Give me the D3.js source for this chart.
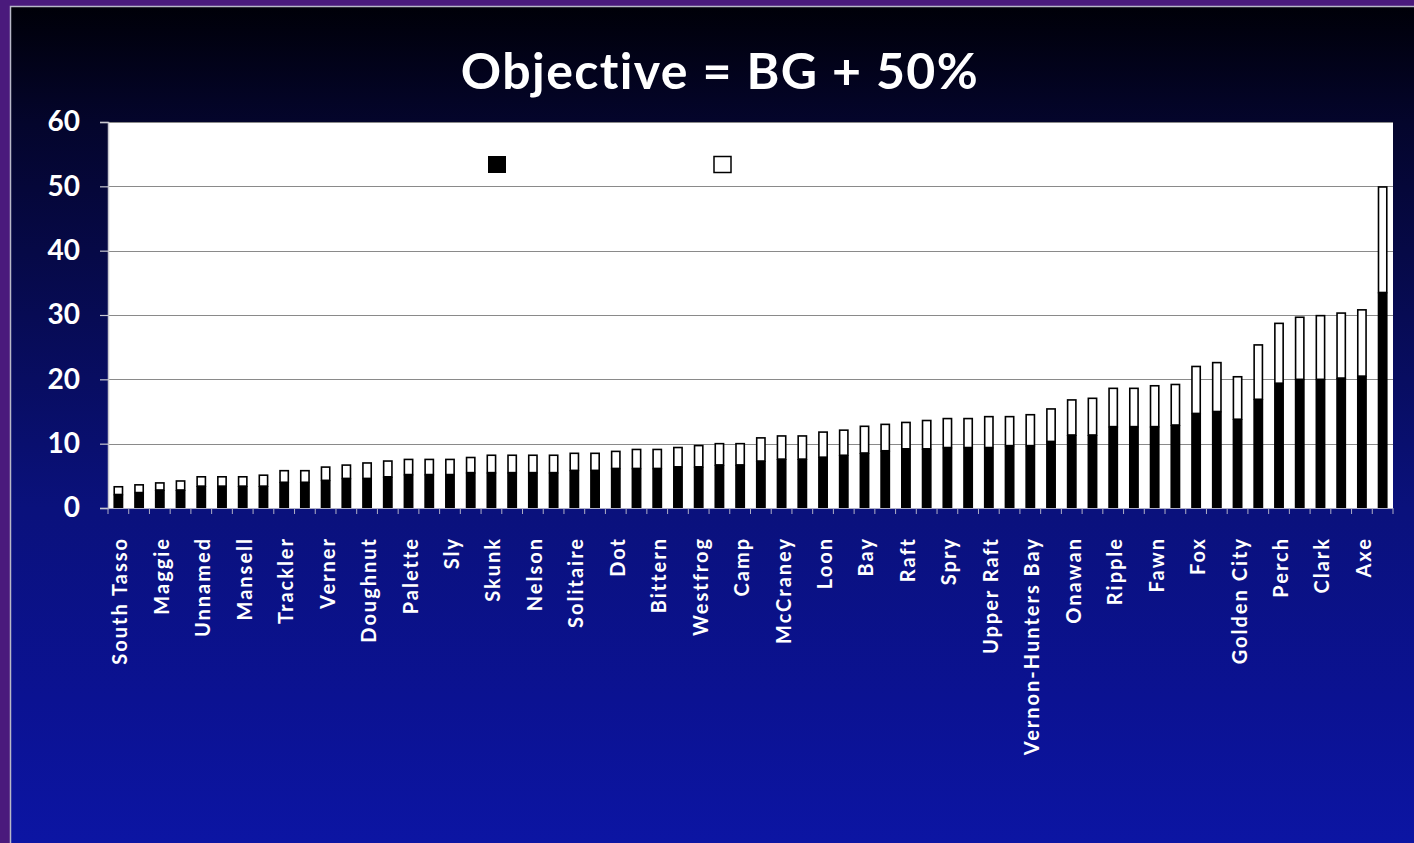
<!DOCTYPE html>
<html>
<head>
<meta charset="utf-8">
<title>Objective = BG + 50%</title>
<script src="https://cdnjs.cloudflare.com/ajax/libs/d3/7.8.5/d3.min.js"></script>
<style>
  body { margin: 0; background: #4a1a7c; }
  svg { display: block; }
</style>
</head>
<body>
<div id="chart"></div>
<script>

// lake names, only every other one is printed on the axis
var lakes = ["South Tasso", "", "Maggie", "", "Unnamed", "", "Mansell", "", "Trackler", "",
  "Verner", "", "Doughnut", "", "Palette", "", "Sly", "", "Skunk", "",
  "Nelson", "", "Solitaire", "", "Dot", "", "Bittern", "", "Westfrog", "",
  "Camp", "", "McCraney", "", "Loon", "", "Bay", "", "Raft", "",
  "Spry", "", "Upper Raft", "", "Vernon-Hunters Bay", "", "Onawan", "", "Ripple", "",
  "Fawn", "", "Fox", "", "Golden City", "", "Perch", "", "Clark", "",
  "Axe", ""];

// background value (black part of each bar)
var bg = [2.1, 2.4, 2.8, 2.8, 3.4, 3.4, 3.4, 3.4, 4.0, 4.0,
  4.3, 4.6, 4.6, 4.85, 5.2, 5.2, 5.2, 5.5, 5.5, 5.5,
  5.5, 5.5, 5.85, 5.85, 6.15, 6.15, 6.15, 6.4, 6.4, 6.7,
  6.7, 7.3, 7.6, 7.6, 7.9, 8.2, 8.55, 8.9, 9.2, 9.2,
  9.4, 9.4, 9.4, 9.7, 9.7, 10.35, 11.35, 11.35, 12.65, 12.65,
  12.65, 12.9, 14.7, 15.0, 13.8, 16.9, 19.4, 20.0, 20.0, 20.2,
  20.5, 33.5];

// objective (top of the white part)
var objective = [3.3, 3.6, 3.9, 4.2, 4.85, 4.85, 4.85, 5.1, 5.8, 5.8,
  6.36, 6.67, 7.0, 7.3, 7.55, 7.55, 7.55, 7.85, 8.2, 8.2,
  8.2, 8.2, 8.5, 8.5, 8.8, 9.1, 9.1, 9.4, 9.7, 10.0,
  10.0, 10.9, 11.2, 11.2, 11.8, 12.1, 12.7, 13.0, 13.3, 13.6,
  13.9, 13.9, 14.2, 14.2, 14.5, 15.4, 16.8, 17.05, 18.6, 18.6,
  19.0, 19.2, 22.0, 22.6, 20.4, 25.35, 28.7, 29.65, 29.9, 30.3,
  30.8, 49.9];

var yTicks = [0, 10, 20, 30, 40, 50, 60];

var W = 1414, H = 843;
var margin = {top: 122, bottom: 335, left: 108, right: 21},
  width = W - margin.left - margin.right,
  height = H - margin.top - margin.bottom;

var svg = d3.select("#chart").append("svg")
  .attr("width", W)
  .attr("height", H);

// background gradient of the slide
var grad = svg.append("defs").append("linearGradient")
  .attr("id", "slide")
  .attr("x1", 0).attr("y1", 0).attr("x2", 0).attr("y2", 1);
[[0, "#000008"], [0.14, "#04052c"], [0.6, "#0a117c"], [0.83, "#0b1292"], [1, "#0c15a3"]]
  .forEach(function(s) {
    grad.append("stop").attr("offset", s[0]).attr("stop-color", s[1]);
  });

svg.append("rect")
  .attr("x", 10).attr("y", 6)
  .attr("width", W - 10).attr("height", H - 6)
  .attr("fill", "url(#slide)");
svg.append("path")
  .attr("d", "M10.5," + H + "V6.5H" + W)
  .attr("fill", "none")
  .attr("stroke", "#b8b8c8")
  .attr("stroke-width", 1.5);

// title
svg.append("text")
  .attr("x", 720)
  .attr("y", 89)
  .attr("text-anchor", "middle")
  .style("font-family", "Lato, 'Open Sans', sans-serif")
  .style("font-weight", "bold")
  .style("font-size", "50px")
  .style("letter-spacing", "1.4px")
  .style("fill", "#ffffff")
  .text("Objective = BG + 50%");

var g = svg.append("g")
  .attr("transform", "translate(" + margin.left + "," + margin.top + ")");

var x = d3.scaleBand()
  .domain(d3.range(lakes.length))
  .range([0, width])
  .paddingInner(0.6)
  .paddingOuter(0.3);

var y = d3.scaleLinear()
  .domain([0, 60])
  .range([height, 0]);

// white plot area
g.append("rect")
  .attr("width", width)
  .attr("height", height)
  .attr("fill", "#ffffff");

// gridlines
g.selectAll("line.grid")
  .data(yTicks)
  .enter().append("line")
  .attr("class", "grid")
  .attr("x1", 0).attr("x2", width)
  .attr("y1", function(d) { return Math.round(y(d)) + 0.5; })
  .attr("y2", function(d) { return Math.round(y(d)) + 0.5; })
  .attr("stroke", "#8a8a8a")
  .attr("stroke-width", 1.2);

// legend, only the swatches show up in the original
g.append("rect")
  .attr("x", 380).attr("y", 34)
  .attr("width", 18).attr("height", 17)
  .attr("fill", "#000");
g.append("rect")
  .attr("x", 606).attr("y", 34.5)
  .attr("width", 17).attr("height", 16)
  .attr("fill", "#fff")
  .attr("stroke", "#000")
  .attr("stroke-width", 1.5);

// bars: black = BG, white = extra to reach the objective
g.selectAll("rect.top")
  .data(objective)
  .enter().append("rect")
  .attr("class", "top")
  .attr("x", function(d, i) { return x(i); })
  .attr("y", function(d) { return y(d); })
  .attr("width", x.bandwidth())
  .attr("height", function(d, i) { return y(bg[i]) - y(d); })
  .attr("fill", "#ffffff")
  .attr("stroke", "#000")
  .attr("stroke-width", 1.6);

g.selectAll("rect.bg")
  .data(bg)
  .enter().append("rect")
  .attr("class", "bg")
  .attr("x", function(d, i) { return x(i) - 0.8; })
  .attr("y", function(d) { return y(d); })
  .attr("width", x.bandwidth() + 1.6)
  .attr("height", function(d) { return height - y(d); })
  .attr("fill", "#000");

// y axis
var yAxis = d3.axisLeft(y)
  .tickValues(yTicks)
  .tickSize(8)
  .tickPadding(20);

var ya = g.append("g").call(yAxis);
ya.select(".domain").attr("stroke", "#c8c8d0").attr("stroke-width", 1.5);
ya.selectAll(".tick line").attr("stroke", "#c8c8d0").attr("stroke-width", 1.2);
ya.selectAll(".tick text")
  .style("font-family", "Lato, 'Open Sans', sans-serif")
  .style("font-weight", "bold")
  .style("font-size", "28px")
  .style("fill", "#ffffff");

// x axis ticks sit on the category edges
g.selectAll("line.xtick")
  .data(d3.range(lakes.length + 1))
  .enter().append("line")
  .attr("class", "xtick")
  .attr("x1", function(d) { return d * width / lakes.length; })
  .attr("x2", function(d) { return d * width / lakes.length; })
  .attr("y1", height)
  .attr("y2", height + 6)
  .attr("stroke", "#b0b0c8")
  .attr("stroke-width", 1);

g.append("line")
  .attr("x1", 0).attr("x2", width)
  .attr("y1", height + 0.5).attr("y2", height + 0.5)
  .attr("stroke", "#b0b0c8");

// rotated lake names
g.selectAll("text.lake")
  .data(lakes)
  .enter().append("text")
  .attr("class", "lake")
  .attr("transform", function(d, i) {
    return "translate(" + (x(i) + x.bandwidth() / 2 + 9) + "," + (height + 29) + ") rotate(-90)";
  })
  .attr("text-anchor", "end")
  .style("font-family", "Lato, 'Open Sans', sans-serif")
  .style("font-weight", "bold")
  .style("font-size", "20px")
  .style("letter-spacing", "2px")
  .style("fill", "#ffffff")
  .text(function(d) { return d; });

</script>
</body>
</html>
